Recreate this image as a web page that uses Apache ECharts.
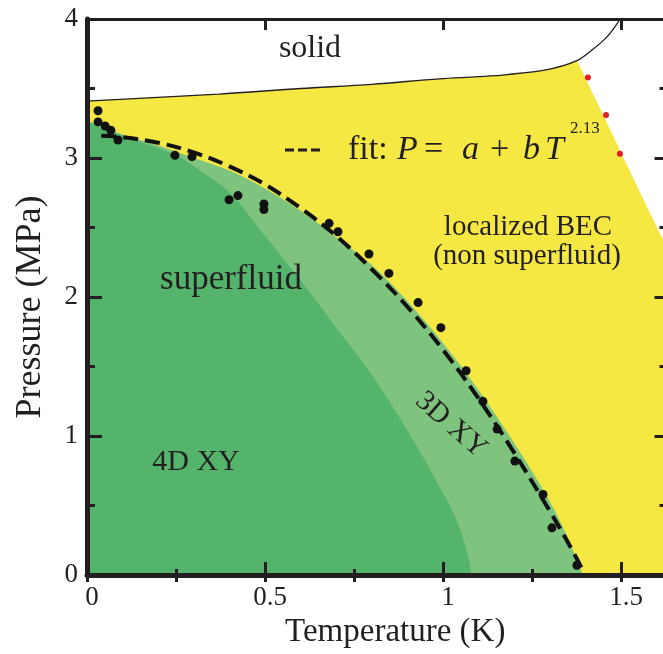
<!DOCTYPE html>
<html><head><meta charset="utf-8">
<script src="https://cdn.jsdelivr.net/npm/echarts@6/dist/echarts.min.js"></script>
<style>html,body{margin:0;padding:0;overflow:hidden;background:#fff}#c{width:670px;height:654px}</style>
</head><body><div id="c"></div>
<script>
// ---- data ----
// melting (solid) line
const meltT = [0, 0.37, 0.6, 0.8, 0.99, 1.1, 1.18, 1.30, 1.376, 1.42, 1.46, 1.49, 1.497];
const meltP = [3.41, 3.46, 3.50, 3.53, 3.57, 3.585, 3.60, 3.64, 3.70, 3.78, 3.87, 3.97, 4.0];
// localized BEC / normal boundary
const bndT = [1.376, 2.07];
const bndP = [3.70, 0];
// superfluid (light green) boundary
const lightT = [0, 0.05, 0.1, 0.2, 0.3, 0.4, 0.5, 0.6, 0.7, 0.8, 0.9, 1.0, 1.1, 1.2, 1.3, 1.35, 1.393];
const lightP = [3.27, 3.22, 3.17, 3.09, 3.00, 2.91, 2.78, 2.62, 2.43, 2.23, 1.97, 1.67, 1.33, 0.95, 0.53, 0.27, 0];
// 4D XY (dark green) boundary
const darkT = [0, 0.1, 0.2, 0.25, 0.3, 0.4, 0.5, 0.6, 0.7, 0.8, 0.9, 1.0, 1.04, 1.07, 1.08];
const darkP = [3.26, 3.16, 3.07, 3.02, 2.94, 2.75, 2.44, 2.12, 1.78, 1.44, 1.04, 0.59, 0.38, 0.14, 0];
// fit P = a + b T^2.13
const fitT = [0.04, 0.1, 0.2, 0.3, 0.4, 0.5, 0.6, 0.7, 0.8, 0.9, 1.0, 1.1, 1.2, 1.3, 1.35, 1.40];
const fitP = [3.16, 3.15, 3.11, 3.04, 2.94, 2.81, 2.64, 2.44, 2.20, 1.93, 1.62, 1.27, 0.88, 0.46, 0.24, 0.0];
// measured points
const dotT = [0.031, 0.031, 0.051, 0.067, 0.087, 0.247, 0.295, 0.399, 0.424, 0.497, 0.497, 0.680, 0.705, 0.792, 0.848, 0.930, 0.994, 1.065, 1.112, 1.152, 1.202, 1.281, 1.306, 1.376];
const dotP = [3.34, 3.26, 3.23, 3.20, 3.13, 3.02, 3.01, 2.70, 2.73, 2.67, 2.63, 2.53, 2.47, 2.31, 2.17, 1.96, 1.78, 1.47, 1.25, 1.05, 0.82, 0.58, 0.34, 0.07];
// red points on the boundary
const redT = [1.407, 1.458, 1.497];
const redP = [3.58, 3.31, 3.03];
// axis ticks
const xTickStep = 0.5, xMinorStep = 0.25, xMax = 1.625;
const yTickStep = 1, yMax = 4;

const zip = (a, b) => a.map((v, i) => [v, b[i]]);
const FONT = '"Liberation Serif","Times New Roman",serif';
const INK = '#231f20';
const YELLOW = '#f5e843', LIGHT = '#7ec47e', DARK = '#54b46c';

const chart = echarts.init(document.getElementById('c'), null, {renderer: 'canvas'});

function txt(text, x, y, size, opts) {
  opts = opts || {};
  return {
    type: 'text', x: x, y: y, z: 100, rotation: opts.rot || 0,
    style: {
      text: text, fill: INK,
      font: (opts.italic ? 'italic ' : '') + size + 'px ' + FONT,
      align: opts.align || 'center', verticalAlign: 'middle'
    }
  };
}

const whitePoly = zip(bndT.concat([2.6, 2.6, bndT[0]]), bndP.concat([0, 4.6, 4.6]));

const option = {
  animation: false,
  backgroundColor: '#fff',
  grid: {left: 87, top: 19, width: 578.5, height: 566},
  xAxis: [
    {type: 'value', position: 'bottom', min: 0, max: xMax, interval: xTickStep, z: 20,
     axisLine: {show: true, onZero: false, lineStyle: {color: INK, width: 5}},
     axisTick: {show: true, inside: true, length: 13, lineStyle: {color: INK, width: 3}},
     splitLine: {show: false},
     axisLabel: {fontFamily: FONT, fontSize: 27, color: INK, margin: 9, showMaxLabel: false, padding: [0, 0, 0, 10]},
     name: 'Temperature (K)', nameLocation: 'middle', nameGap: 26,
     nameTextStyle: {fontFamily: FONT, fontSize: 33, color: INK, padding: [0, 0, 0, 38]}},
    {type: 'value', position: 'bottom', min: 0, max: xMax, interval: xMinorStep, z: 20,
     axisLine: {show: false}, axisLabel: {show: false}, splitLine: {show: false},
     axisTick: {show: true, inside: true, length: 6, lineStyle: {color: INK, width: 3}}},
    {type: 'value', position: 'top', min: 0, max: xMax, interval: xTickStep, z: 20,
     axisLine: {show: true, onZero: false, lineStyle: {color: INK, width: 3}},
     axisLabel: {show: false}, splitLine: {show: false},
     axisTick: {show: true, inside: true, length: 11, lineStyle: {color: INK, width: 3}}},
    {type: 'value', position: 'top', min: 0, max: xMax, interval: xMinorStep, z: 20,
     axisLine: {show: false}, axisLabel: {show: false}, splitLine: {show: false},
     axisTick: {show: true, inside: true, length: 7, lineStyle: {color: INK, width: 3}}}
  ],
  yAxis: [
    {type: 'value', position: 'left', min: 0, max: yMax, interval: yTickStep, z: 20,
     axisLine: {show: true, onZero: false, lineStyle: {color: INK, width: 5}},
     axisTick: {show: true, inside: true, length: 15, lineStyle: {color: INK, width: 3}},
     minorTick: {show: true, splitNumber: 2, length: 8, lineStyle: {color: INK, width: 3}},
     splitLine: {show: false}, minorSplitLine: {show: false},
     axisLabel: {fontFamily: FONT, fontSize: 27, color: INK, margin: 9},
     name: 'Pressure (MPa)', nameLocation: 'middle', nameGap: 38,
     nameTextStyle: {fontFamily: FONT, fontSize: 36, color: INK, padding: [0, 20, 0, 0]}},
    {type: 'value', position: 'right', min: 0, max: yMax, interval: yTickStep, z: 20,
     axisLine: {show: true, onZero: false, lineStyle: {color: INK, width: 3}},
     axisTick: {show: true, inside: true, length: 11, lineStyle: {color: INK, width: 3}},
     minorTick: {show: true, splitNumber: 2, length: 6, lineStyle: {color: INK, width: 3}},
     splitLine: {show: false}, axisLabel: {show: false}}
  ],
  series: [
    {type: 'line', name: 'BEC region', z: 1, data: zip(meltT, meltP), smooth: 0.35,
     symbol: 'none', lineStyle: {width: 0}, areaStyle: {color: YELLOW, opacity: 1, origin: 'start'}, silent: true},
    {type: 'custom', name: 'normal', z: 2, clip: true, silent: true, data: [[bndT[0], bndP[0]]],
     renderItem: function (params, api) {
       return {type: 'polygon', shape: {points: whitePoly.map(p => api.coord(p))}, style: {fill: '#fff'}};
     }},
    {type: 'line', name: 'BEC region (high T)', z: 2, data: zip(bndT, bndP), smooth: false,
     symbol: 'none', lineStyle: {width: 0}, areaStyle: {color: YELLOW, opacity: 1, origin: 'start'}, silent: true},
    {type: 'line', name: 'superfluid', z: 3, data: zip(lightT, lightP), smooth: 0.35,
     symbol: 'none', lineStyle: {width: 0}, areaStyle: {color: LIGHT, opacity: 1, origin: 'start'}, silent: true},
    {type: 'line', name: '4D XY', z: 4, data: zip(darkT, darkP), smooth: 0.35,
     symbol: 'none', lineStyle: {width: 0}, areaStyle: {color: DARK, opacity: 1, origin: 'start'}, silent: true},
    {type: 'line', name: 'melting', z: 5, data: zip(meltT, meltP), smooth: 0.35,
     symbol: 'none', lineStyle: {color: INK, width: 1.3}, silent: true},
    {type: 'line', name: 'fit', z: 6, data: zip(fitT, fitP), smooth: 0.35,
     symbol: 'none', lineStyle: {color: '#111', width: 4, type: [15, 7], cap: 'butt'}, silent: true},
    {type: 'scatter', name: 'data', z: 7, data: zip(dotT, dotP), symbol: 'circle', symbolSize: 9,
     itemStyle: {color: '#111', opacity: 1}, silent: true},
    {type: 'scatter', name: 'red', z: 7, data: zip(redT, redP), symbol: 'circle', symbolSize: 6,
     itemStyle: {color: '#e41e26', opacity: 1}, silent: true}
  ],
  graphic: [
    txt('solid', 310, 49, 32),
    txt('localized BEC', 528, 227, 29),
    txt('(non superfluid)', 527, 256, 29),
    txt('superfluid', 231, 280, 35),
    txt('4D XY', 196, 462, 30),
    txt('3D XY', 451, 425, 29, {rot: -0.72}),
    {type: 'line', z: 100, shape: {x1: 285, y1: 150, x2: 323, y2: 150},
     style: {stroke: INK, lineWidth: 3, lineDash: [9, 4]}},
    txt('fit:', 348, 150, 34, {align: 'left'}),
    txt('P', 397, 150, 34, {align: 'left', italic: true}),
    txt('=', 424, 150, 34, {align: 'left'}),
    txt('a', 462, 150, 34, {align: 'left', italic: true}),
    txt('+', 490, 150, 34, {align: 'left'}),
    txt('b', 523, 150, 34, {align: 'left', italic: true}),
    txt('T', 545, 150, 34, {align: 'left', italic: true}),
    txt('2.13', 570, 129, 17, {align: 'left'})
  ]
};
chart.setOption(option);
</script>
</body></html>
